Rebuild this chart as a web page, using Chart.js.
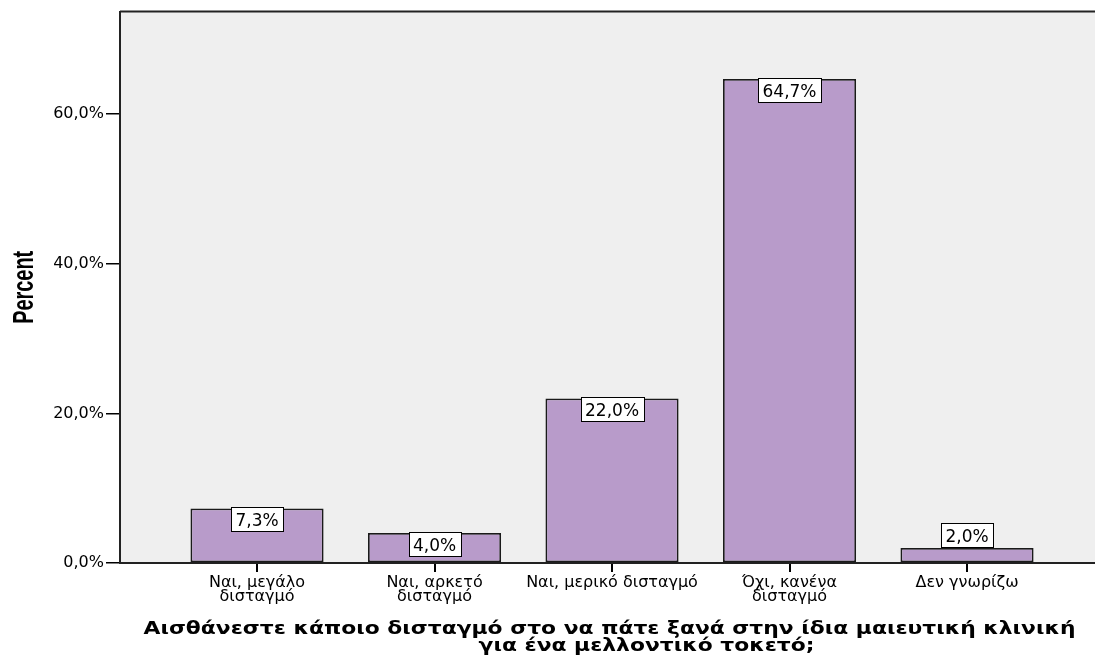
<!DOCTYPE html>
<html>
<head>
<meta charset="utf-8">
<title>Δισταγμός για την ίδια μαιευτική κλινική</title>
<script src="https://cdn.jsdelivr.net/npm/chart.js@4/dist/chart.umd.min.js"></script>
<style>
  html, body { margin: 0; padding: 0; background: #ffffff; }
  #wrap { width: 1095px; height: 657px; }
  canvas { display: block; }
</style>
</head>
<body>
<div id="wrap"><canvas id="chart" width="1095" height="657"></canvas></div>
<script>
// Response categories (multi-line labels as arrays)
const categories = [
  ["Ναι, μεγάλο", "δισταγμό"],
  ["Ναι, αρκετό", "δισταγμό"],
  "Ναι, μερικό δισταγμό",
  ["Όχι, κανένα", "δισταγμό"],
  "Δεν γνωρίζω"
];
// Percent of respondents per category
const percentValues = [7.3, 4.0, 22.0, 64.7, 2.0];
// Y axis tick values
const yTickValues = [0, 20, 40, 60];
const yAxisTitle = "Percent";
const xAxisTitle = [
  "Αισθάνεστε κάποιο δισταγμό στο να πάτε ξανά στην ίδια μαιευτική κλινική",
  "για ένα μελλοντικό τοκετό;"
];

const FONT = '"DejaVu Sans", Verdana, sans-serif';
const fmtPct = v => Number(v).toFixed(1).replace('.', ',') + '%';

// Grey plot panel and its top frame line
const panelPlugin = {
  id: 'panel',
  beforeDraw(chart) {
    const { ctx, chartArea: a } = chart;
    ctx.save();
    ctx.fillStyle = '#efefef';
    ctx.fillRect(a.left, a.top, a.right - a.left, a.bottom - a.top);
    ctx.strokeStyle = '#222';
    ctx.lineWidth = 2;
    ctx.beginPath();
    ctx.moveTo(a.left, a.top);
    ctx.lineTo(a.right, a.top);
    ctx.stroke();
    ctx.restore();
  }
};

// Boxed value labels at the top of each bar
const valueLabelPlugin = {
  id: 'valueLabels',
  afterDatasetsDraw(chart) {
    const { ctx } = chart;
    const meta = chart.getDatasetMeta(0);
    const data = chart.data.datasets[0].data;
    ctx.save();
    ctx.font = '17px ' + FONT;
    ctx.textAlign = 'center';
    ctx.textBaseline = 'alphabetic';
    meta.data.forEach((bar, i) => {
      const text = fmtPct(data[i].y);
      const tw = ctx.measureText(text).width;
      const w = Math.round(tw + 9);
      const h = 24;
      const left = Math.round(bar.x - w / 2) + 0.5;
      const barH = bar.base - bar.y;
      const top = Math.round(barH >= h ? bar.y : bar.y - h) - 0.5;
      ctx.fillStyle = '#ffffff';
      ctx.fillRect(left, top, w, h);
      ctx.strokeStyle = '#000';
      ctx.lineWidth = 1;
      ctx.strokeRect(left, top, w, h);
      ctx.fillStyle = '#000';
      ctx.fillText(text, bar.x, top + h / 2 + 6);
    });
    ctx.restore();
  }
};

// Condensed bold vertical axis title and wide bold horizontal axis title
const axisTitlePlugin = {
  id: 'axisTitles',
  afterDraw(chart) {
    const { ctx, chartArea: a } = chart;
    ctx.save();
    ctx.font = 'bold 30px "Liberation Sans", Arial, sans-serif';
    const tw = ctx.measureText(yAxisTitle).width;
    ctx.translate(33, (a.top + a.bottom) / 2);
    ctx.rotate(-Math.PI / 2);
    ctx.scale(73 / tw, 1);
    ctx.textAlign = 'center';
    ctx.textBaseline = 'alphabetic';
    ctx.fillStyle = '#000';
    ctx.fillText(yAxisTitle, 0, 0);
    ctx.restore();

    ctx.save();
    ctx.font = 'bold 17px ' + FONT;
    ctx.fillStyle = '#000';
    ctx.textAlign = 'center';
    ctx.textBaseline = 'alphabetic';
    const sx = 932 / ctx.measureText(xAxisTitle[0]).width;
    const centers = [(a.left + a.right) / 2 + 2, (a.left + a.right) / 2 + 39];
    xAxisTitle.forEach((line, k) => {
      ctx.save();
      ctx.translate(centers[k], a.bottom + 71 + k * 17);
      ctx.scale(sx, 1);
      ctx.fillText(line, 0, 0);
      ctx.restore();
    });
    ctx.restore();
  }
};

new Chart(document.getElementById('chart'), {
  type: 'bar',
  data: {
    datasets: [{
      data: percentValues.map((v, i) => ({ x: i, y: v })),
      backgroundColor: '#b89bca',
      borderColor: '#1a1a1a',
      borderWidth: 1.8,
      borderSkipped: false,
      categoryPercentage: 1,
      barPercentage: 0.75
    }]
  },
  options: {
    responsive: false,
    animation: false,
    devicePixelRatio: 1,
    layout: { padding: { top: 10, left: 0, right: 0, bottom: 0 } },
    plugins: {
      legend: { display: false },
      tooltip: { enabled: false },
      title: { display: false }
    },
    scales: {
      x: {
        type: 'linear',
        min: -0.772,
        max: 4.721,
        offset: false,
        afterBuildTicks: s => { s.ticks = categories.map((c, i) => ({ value: i })); },
        afterFit: s => { s.height = 94; },
        ticks: {
          autoSkip: false,
          maxRotation: 0,
          minRotation: 0,
          padding: 4,
          color: '#000',
          font: { family: FONT, size: 16, lineHeight: 0.875 },
          callback: v => categories[v]
        },
        grid: { offset: false, drawOnChartArea: false, drawTicks: true, tickLength: 9, color: '#000', lineWidth: 2 },
        border: { display: true, color: '#222', width: 2 },
        title: { display: false }
      },
      y: {
        min: 0,
        max: 73.7,
        afterBuildTicks: s => { s.ticks = yTickValues.map(v => ({ value: v })); },
        afterFit: s => { s.width = 120; },
        ticks: {
          padding: 2,
          color: '#000',
          font: { family: FONT, size: 16 },
          callback: v => fmtPct(v)
        },
        grid: { drawOnChartArea: false, drawTicks: true, tickLength: 14, color: '#000', lineWidth: 1.5 },
        border: { display: true, color: '#222', width: 2 }
      }
    }
  },
  plugins: [panelPlugin, valueLabelPlugin, axisTitlePlugin]
});
</script>
</body>
</html>
